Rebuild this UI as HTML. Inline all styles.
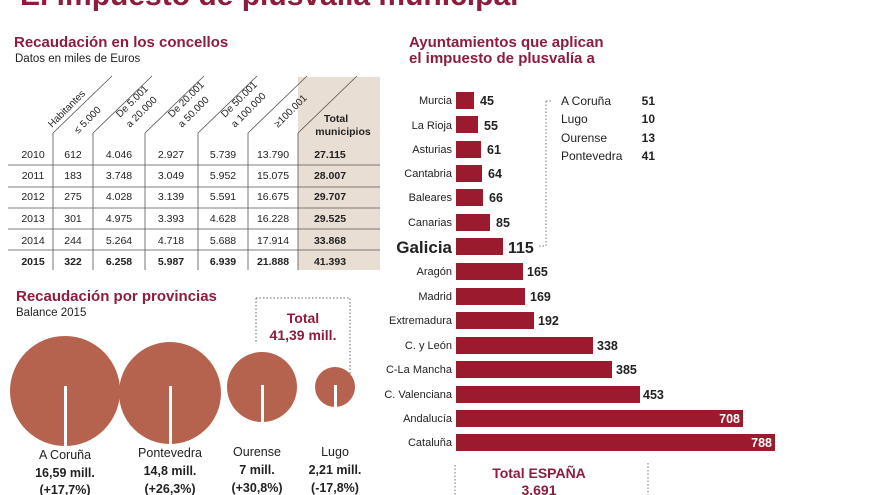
<!DOCTYPE html>
<html><head><meta charset="utf-8"><style>
html,body{margin:0;padding:0;background:#fff;}
svg{display:block;font-family:"Liberation Sans",sans-serif;}
</style></head><body>
<svg width="880" height="495" viewBox="0 0 880 495" xmlns="http://www.w3.org/2000/svg">
<!-- Title cropped -->
<text x="20" y="5" font-size="30" font-weight="bold" fill="#8c1d3c">El impuesto de plusvalía municipal</text>

<!-- Table section -->
<text x="14" y="47" font-size="15" font-weight="bold" fill="#8c1d3c">Recaudación en los concellos</text>
<text x="15" y="62" font-size="11.5" fill="#222">Datos en miles de Euros</text>
<rect x="298" y="77" width="82" height="193" fill="#e9ded4"/>
<g stroke="#555" stroke-width="0.8" fill="none">
<line x1="53" y1="270" x2="53" y2="133"/><line x1="53" y1="133" x2="112" y2="76"/>
<line x1="93" y1="270" x2="93" y2="133"/><line x1="93" y1="133" x2="152" y2="76"/>
<line x1="145" y1="270" x2="145" y2="133"/><line x1="145" y1="133" x2="204" y2="76"/>
<line x1="198" y1="270" x2="198" y2="133"/><line x1="198" y1="133" x2="257" y2="76"/>
<line x1="248" y1="270" x2="248" y2="133"/><line x1="248" y1="133" x2="307" y2="76"/>
<line x1="298" y1="270" x2="298" y2="133"/><line x1="298" y1="133" x2="357" y2="76"/>
<line x1="8" y1="165" x2="380" y2="165"/>
<line x1="8" y1="187" x2="380" y2="187"/>
<line x1="8" y1="208" x2="380" y2="208"/>
<line x1="8" y1="229" x2="380" y2="229"/>
<line x1="8" y1="250" x2="380" y2="250"/>
</g>
<g font-size="10" fill="#222">
<text transform="translate(52,128) rotate(-45)">Habitantes</text>
<text transform="translate(78,134) rotate(-45)">≤ 5.000</text>
<text transform="translate(120,118) rotate(-45)">De 5.001</text><text transform="translate(130,128) rotate(-45)">a 20.000</text>
<text transform="translate(172,118) rotate(-45)">De 20.001</text><text transform="translate(182,128) rotate(-45)">a 50.000</text>
<text transform="translate(225,118) rotate(-45)">De 50.001</text><text transform="translate(235,128) rotate(-45)">a 100.000</text>
<text transform="translate(278,128) rotate(-45)">≥100.001</text>
</g>
<text x="336" y="122" font-size="10.5" font-weight="bold" fill="#222" text-anchor="middle">Total</text>
<text x="343" y="135" font-size="10.5" font-weight="bold" fill="#222" text-anchor="middle">municipios</text>
<g font-size="10.5" fill="#222" text-anchor="middle">
<g transform="translate(0,158)"><text x="33">2010</text><text x="73">612</text><text x="119">4.046</text><text x="171">2.927</text><text x="223">5.739</text><text x="273">13.790</text><text x="330" font-weight="bold">27.115</text></g>
<g transform="translate(0,179)"><text x="33">2011</text><text x="73">183</text><text x="119">3.748</text><text x="171">3.049</text><text x="223">5.952</text><text x="273">15.075</text><text x="330" font-weight="bold">28.007</text></g>
<g transform="translate(0,200)"><text x="33">2012</text><text x="73">275</text><text x="119">4.028</text><text x="171">3.139</text><text x="223">5.591</text><text x="273">16.675</text><text x="330" font-weight="bold">29.707</text></g>
<g transform="translate(0,222)"><text x="33">2013</text><text x="73">301</text><text x="119">4.975</text><text x="171">3.393</text><text x="223">4.628</text><text x="273">16.228</text><text x="330" font-weight="bold">29.525</text></g>
<g transform="translate(0,244)"><text x="33">2014</text><text x="73">244</text><text x="119">5.264</text><text x="171">4.718</text><text x="223">5.688</text><text x="273">17.914</text><text x="330" font-weight="bold">33.868</text></g>
<g transform="translate(0,265)" font-weight="bold"><text x="33">2015</text><text x="73">322</text><text x="119">6.258</text><text x="171">5.987</text><text x="223">6.939</text><text x="273">21.888</text><text x="330">41.393</text></g>
</g>

<!-- Provincias -->
<text x="16" y="301" font-size="15" font-weight="bold" fill="#8c1d3c">Recaudación por provincias</text>
<text x="16" y="316" font-size="11.5" fill="#222">Balance 2015</text>
<path d="M256,298 H350 V377" stroke="#666" stroke-dasharray="1.5,2" fill="none"/>
<line x1="256" y1="298" x2="256" y2="343" stroke="#666" stroke-dasharray="1.5,2"/>
<text x="303" y="323" font-size="14" font-weight="bold" fill="#8c1d3c" text-anchor="middle">Total</text>
<text x="303" y="340" font-size="14" font-weight="bold" fill="#8c1d3c" text-anchor="middle">41,39 mill.</text>
<g fill="#b5634f">
<circle cx="65" cy="391" r="55"/>
<circle cx="170" cy="393" r="51"/>
<circle cx="262" cy="387" r="35"/>
<circle cx="335" cy="387" r="20"/>
</g>
<g fill="#fff">
<rect x="64" y="386" width="3" height="60"/>
<rect x="169" y="386" width="3" height="58"/>
<rect x="261" y="385" width="3" height="38"/>
<rect x="334" y="385" width="3" height="23"/>
</g>
<g font-size="12.5" fill="#222" text-anchor="middle">
<text x="65" y="459">A Coruña</text><text x="170" y="457">Pontevedra</text><text x="257" y="456">Ourense</text><text x="335" y="456">Lugo</text>
<g font-weight="bold">
<text x="65" y="477">16,59 mill.</text><text x="170" y="475">14,8 mill.</text><text x="257" y="474">7 mill.</text><text x="335" y="474">2,21 mill.</text>
<text x="65" y="494">(+17,7%)</text><text x="170" y="493">(+26,3%)</text><text x="257" y="492">(+30,8%)</text><text x="335" y="492">(-17,8%)</text>
</g></g>

<!-- Bars -->
<text x="409" y="47" font-size="15" font-weight="bold" fill="#8c1d3c">Ayuntamientos que aplican</text>
<text x="409" y="63" font-size="15" font-weight="bold" fill="#8c1d3c">el impuesto de plusvalía a</text>
<g fill="#9b1a2e">
<rect x="456" y="92" width="18" height="17"/>
<rect x="456" y="116" width="22" height="17"/>
<rect x="456" y="141" width="25" height="17"/>
<rect x="456" y="165" width="26" height="17"/>
<rect x="456" y="189" width="27" height="17"/>
<rect x="456" y="214" width="34" height="17"/>
<rect x="456" y="238" width="47" height="17"/>
<rect x="456" y="263" width="67" height="17"/>
<rect x="456" y="288" width="69" height="17"/>
<rect x="456" y="312" width="78" height="17"/>
<rect x="456" y="337" width="137" height="17"/>
<rect x="456" y="361" width="156" height="17"/>
<rect x="456" y="386" width="184" height="17"/>
<rect x="456" y="410" width="287" height="17"/>
<rect x="456" y="434" width="319" height="17"/>
</g>
<g font-size="11" fill="#222" text-anchor="end">
<text x="452" y="104">Murcia</text><text x="452" y="129">La Rioja</text><text x="452" y="153">Asturias</text><text x="452" y="177">Cantabria</text><text x="452" y="201">Baleares</text><text x="452" y="226">Canarias</text>
<text x="452" y="253" font-size="17" font-weight="bold">Galicia</text>
<text x="452" y="275">Aragón</text><text x="452" y="300">Madrid</text><text x="452" y="324">Extremadura</text><text x="452" y="349">C. y León</text><text x="452" y="373">C-La Mancha</text><text x="452" y="398">C. Valenciana</text><text x="452" y="422">Andalucía</text><text x="452" y="446">Cataluña</text>
</g>
<g font-size="12.5" font-weight="bold" fill="#222">
<text x="480" y="105">45</text><text x="484" y="130">55</text><text x="487" y="154">61</text><text x="488" y="178">64</text><text x="489" y="202">66</text><text x="496" y="227">85</text>
<text x="508" y="253" font-size="16">115</text>
<text x="527" y="276">165</text><text x="530" y="301">169</text><text x="538" y="325">192</text><text x="597" y="350">338</text><text x="616" y="374">385</text><text x="643" y="399">453</text>
<text x="740" y="423" fill="#fff" text-anchor="end">708</text><text x="772" y="447" fill="#fff" text-anchor="end">788</text>
</g>
<line x1="546" y1="101" x2="546" y2="246" stroke="#777" stroke-dasharray="1.5,2"/>
<line x1="546" y1="101" x2="553" y2="101" stroke="#777" stroke-dasharray="1.5,2"/>
<line x1="539" y1="246" x2="546" y2="246" stroke="#777" stroke-dasharray="1.5,2"/>
<g font-size="12" fill="#222">
<text x="561" y="105">A Coruña</text><text x="561" y="123">Lugo</text><text x="561" y="142">Ourense</text><text x="561" y="160">Pontevedra</text>
<g font-weight="bold" text-anchor="end"><text x="655" y="105">51</text><text x="655" y="123">10</text><text x="655" y="142">13</text><text x="655" y="160">41</text></g>
</g>
<line x1="455" y1="465" x2="455" y2="495" stroke="#777" stroke-dasharray="1.5,2"/>
<line x1="648" y1="463" x2="648" y2="495" stroke="#777" stroke-dasharray="1.5,2"/>
<text x="539" y="478" font-size="14" font-weight="bold" fill="#8c1d3c" text-anchor="middle">Total ESPAÑA</text>
<text x="539" y="495" font-size="14" font-weight="bold" fill="#8c1d3c" text-anchor="middle">3.691</text>
</svg>
</body></html>
